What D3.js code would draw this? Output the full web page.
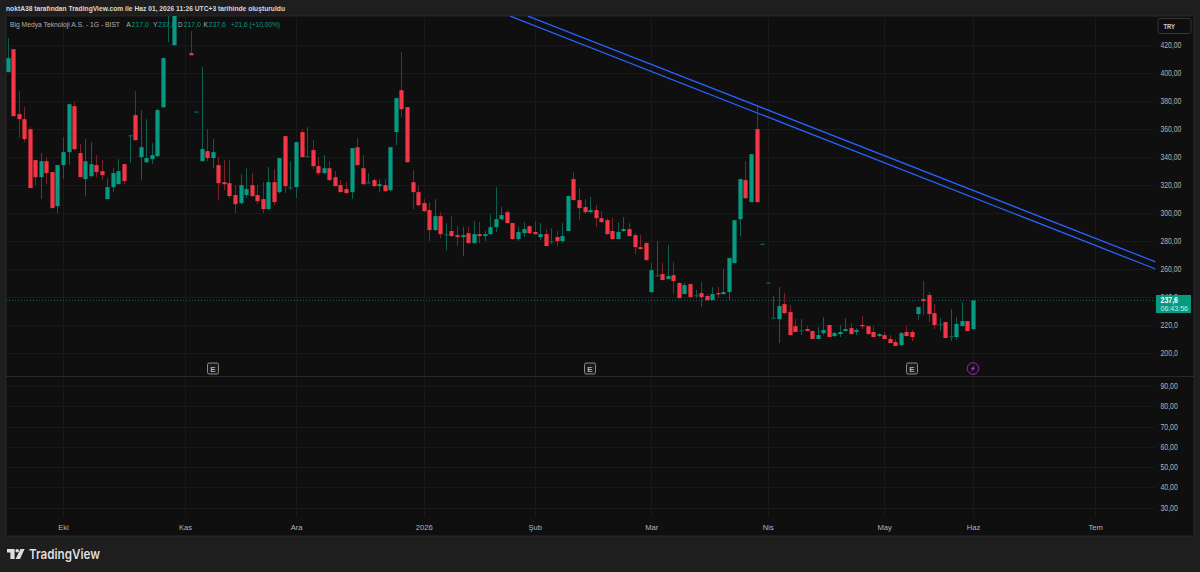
<!DOCTYPE html>
<html><head><meta charset="utf-8">
<script src="https://cdn.jsdelivr.net/npm/d3@7/dist/d3.min.js"></script>
<style>html,body{margin:0;padding:0;background:#1e1e1e;overflow:hidden}svg{display:block}text{font-family:"Liberation Sans",Arial,sans-serif}</style>
</head><body><svg id="c" width="1200" height="572"></svg>
<script>
const opens=[400.6,417.0,370.6,367.0,359.9,337.8,325.6,337.0,329.2,304.9,
334.2,343.5,376.3,342.8,324.2,326.3,334.2,329.9,309.9,318.5,
320.6,334.9,354.9,369.9,339.9,336.3,338.5,340.6,375.6,445,
419.9,455,470,414.2,372,337.0,344.2,339.2,334.2,322.0,
321.3,312.8,307.1,312.8,319.9,312.8,309.9,302.8,322.0,314.9,
354.9,317.8,318.5,357.8,339.9,344.9,333.5,328.5,332.0,325.6,
319.9,317.1,314.9,347.0,332.0,321.3,323.5,319.2,319.9,316.3,
357.8,387.7,375.6,322.0,314.9,307.1,302.1,287.8,297.8,284.2,
287.1,284.2,282.8,285.6,278.5,284.9,283.5,284.9,289.9,295.6,
300.6,292.8,281.4,285.6,290.6,286.4,282.8,284.9,279.6,282.8,
279.9,287.1,324.2,309.2,304.2,300.6,302.1,296.3,294.9,287.1,
281.4,287.1,288.5,284.2,275.6,278.5,243.5,254.9,256.4,252.8,
255.6,250.0,242.1,249.2,240.7,242.8,240.7,237.8,242.8,242.1,
243.5,264.2,295.6,323.5,307.8,359.9,277.6,250.0,224.6,224.2,
234.9,229.2,219.2,215.7,217.1,215.7,210.0,214.2,220.0,212.1,
213.5,215.7,217.8,215.0,220.0,219.2,215.0,212.1,212.8,210.0,
207.8,205.7,215.0,215.0,227.8,238.5,241.4,228.5,220.0,222.1,
211.4,211.4,219.2,222.8,217.0];
const highs=[424.9,417.0,387.0,375.6,361.3,337.8,342.8,339.9,329.2,334.2,
354.2,377.7,379.2,349.2,352.8,350.6,341.3,337.8,324.9,332.0,
338.5,334.9,355.6,387.0,373.5,367.0,349.9,374.9,411.0,465,
455,475,495,429.9,372.7,404.2,359.9,352.8,339.9,337.8,
337.8,319.9,327.8,332.0,328.5,319.9,322.0,332.8,331.3,339.2,
355.0,337.0,350.6,359.9,361.3,352.0,339.9,341.3,337.0,329.9,
323.5,322.0,346.3,353.5,341.3,328.5,324.9,324.2,324.2,347.0,
382.0,414.9,375.6,330.6,319.2,309.9,307.8,309.9,300.6,292.8,
297.8,290.6,289.9,289.9,294.2,293.5,287.1,299.2,318.5,304.2,
302.1,293.0,290.6,293.5,291.3,294.2,292.8,288.5,289.2,287.1,
292.8,312.1,329.2,317.8,309.9,311.3,305.6,301.3,296.3,296.3,
293.5,297.1,292.8,285.6,284.2,279.0,264.2,279.9,264.2,277.1,
264.9,250.5,250.0,249.5,244.9,250.7,242.1,247.1,247.1,259.9,
268.0,295.0,324.5,337.0,342.2,377.0,278.2,250.6,240.7,247.1,
242.8,234.2,224.2,224.2,219.2,216.0,218.5,225.6,220.2,215.0,
220.0,225.0,221.4,217.8,226.4,219.5,219.2,214.2,215.0,212.8,
210.0,215.0,219.2,216.4,233.0,251.4,243.5,235.0,225.0,222.3,
231.4,225.6,236.4,223.0,237.6];
const lows=[400.6,369.0,353.5,350.6,317.8,319.9,309.9,320.6,303.5,299.9,
324.2,334.2,345.0,325.6,312.1,325.6,325.6,323.5,309.9,314.9,
320.6,320.6,335.6,352.0,323.5,335.6,334.9,340.0,375.0,422,
419.9,450,465,412.7,371.8,337.0,337.0,332.0,309.2,316.3,
310.6,299.9,306.0,310.6,311.3,306.3,299.9,302.1,305.6,314.0,
314.2,316.3,310.6,339.9,339.9,331.3,327.0,327.8,323.0,319.0,
314.9,314.0,309.9,334.0,319.9,321.0,318.5,314.9,315.0,315.6,
348.5,368.5,336.0,302.8,304.9,300.6,279.9,287.1,282.1,273.5,
282.8,276.4,269.2,278.0,278.0,278.5,279.9,284.0,286.4,294.9,
292.0,281.0,280.0,282.8,285.0,284.2,280.6,276.0,277.8,276.4,
278.5,287.0,309.0,294.9,299.2,299.9,289.9,293.0,284.5,280.6,
281.0,286.4,283.0,270.6,274.0,265.6,243.0,254.5,252.0,252.5,
242.1,239.0,242.0,239.5,239.2,232.8,237.5,237.5,239.2,241.4,
237.1,264.0,283.5,310.0,307.5,307.5,277.4,249.8,224.6,207.1,
228.0,212.5,214.8,212.8,215.5,209.8,209.8,212.8,211.2,211.4,
211.4,215.5,213.3,212.8,217.1,213.3,211.2,211.4,209.8,207.0,
204.8,204.3,212.0,208.5,223.5,227.1,222.1,217.1,215.7,210.5,
208.5,209.2,219.0,215.5,217.0];
const closes=[410.6,369.2,367.0,352.8,317.8,325.6,337.0,328.5,303.5,334.2,
343.5,377.7,345.6,325.6,337.0,334.9,329.2,327.0,318.5,328.5,
329.9,322.8,355.6,352.0,347.0,339.2,341.3,373.5,410.6,455,
450,470,490,412.7,372.5,345.6,339.2,343.5,321.3,320.6,
312.1,306.3,319.9,317.1,312.1,308.5,302.8,322.0,307.8,339.2,
319.2,318.5,350.6,339.9,340.6,333.5,328.5,332.0,323.5,319.2,
314.9,314.2,346.3,334.2,320.6,322.0,319.2,320.6,315.6,347.0,
382.0,374.2,336.3,314.9,305.6,301.3,287.8,297.8,284.9,284.9,
283.5,282.8,284.2,278.5,284.9,283.5,284.9,289.9,295.6,298.5,
292.8,281.4,286.4,288.5,285.6,284.9,284.9,276.4,280.0,279.9,
283.5,312.1,309.2,303.5,300.6,302.1,296.3,293.5,284.9,281.4,
286.4,288.5,283.5,275.6,274.2,266.4,259.2,255.6,252.1,254.9,
251.4,239.2,248.5,239.9,241.4,239.9,237.8,242.1,242.1,243.5,
267.8,294.9,324.2,310.6,342.0,307.8,278.0,250.4,225.3,233.5,
228.5,212.8,215.0,216.4,215.7,210.0,212.8,216.4,211.4,214.2,
215.0,217.1,213.5,216.4,219.2,213.5,211.4,213.5,210.0,207.1,
205.0,214.2,212.1,211.4,232.8,237.1,227.8,220.0,220.7,210.7,
212.1,220.7,222.8,215.7,237.6];

const priceTicks=[200,220,240,260,280,300,320,340,360,380,400,420];
const priceTickLabels=["200,0","220,0","240,0","260,00","280,00","300,00","320,00","340,00","360,00","380,00","400,00","420,00"];
const lowerTicks=[30,40,50,60,70,80,90];
const monthIdx=[10,32,52,75,95,116,137,158,174,196];
const monthLabels=["Eki","Kas","Ara","2026","Şub","Mar","Nis","May","Haz","Tem"];
const earningsIdx=[37,105,163];
const trendUpperIdx=[93.8,206.9], trendUpperPrice=[440.6,265.1];
const trendLowerIdx=[90.6,206.9], trendLowerPrice=[440.6,260.0];
const lastPrice=237.6;

const svg=d3.select("#c");
const GREEN="#089981",RED="#f23645",GREENW="#0c5e50",REDW="#7a222b",BLUE="#2962ff",GRID="#191919",TXT="#b4b4b4";
const x=d3.scaleLinear().domain([0,174]).range([7.5,973]);
const y=d3.scaleLinear().domain([200,420]).range([353,45]);
const y2=d3.scaleLinear().domain([30,90]).range([507.5,386]);

svg.append("rect").attr("width",1200).attr("height",572).attr("fill","#1e1e1e");
svg.append("rect").attr("x",6).attr("y",16).attr("width",1188).attr("height",520).attr("fill","#0f0f0f").attr("stroke","#292929").attr("stroke-width",1);
svg.append("defs").append("clipPath").attr("id","pane").append("rect").attr("x",6).attr("y",16).attr("width",1149.5).attr("height",360);

// grid
const grid=svg.append("g").attr("stroke",GRID).attr("stroke-width",1);
grid.selectAll("line.h").data(priceTicks).join("line").attr("class","h").attr("x1",6).attr("x2",1155).attr("y1",d=>Math.round(y(d))+.5).attr("y2",d=>Math.round(y(d))+.5);
grid.selectAll("line.l").data(lowerTicks).join("line").attr("class","l").attr("x1",6).attr("x2",1155).attr("y1",d=>Math.round(y2(d))+.5).attr("y2",d=>Math.round(y2(d))+.5);
grid.selectAll("line.v").data(monthIdx).join("line").attr("class","v").attr("x1",d=>Math.round(x(d))+.5).attr("x2",d=>Math.round(x(d))+.5).attr("y1",16).attr("y2",517);
svg.append("line").attr("x1",6).attr("x2",1194).attr("y1",376.5).attr("y2",376.5).attr("stroke","#292929");

// last price line
svg.append("line").attr("x1",6).attr("x2",1155).attr("y1",y(lastPrice)).attr("y2",y(lastPrice)).attr("stroke",GREEN).attr("stroke-opacity",.7).attr("stroke-dasharray","1 2");

// candles
const data=opens.map((o,i)=>({i,o,h:highs[i],l:lows[i],c:closes[i]}));
const cg=svg.append("g").attr("clip-path","url(#pane)");
cg.selectAll("line.w").data(data).join("line").attr("class","w")
 .attr("x1",d=>Math.round(x(d.i))+.5).attr("x2",d=>Math.round(x(d.i))+.5)
 .attr("y1",d=>y(d.h)).attr("y2",d=>y(d.l))
 .attr("stroke",d=>d.c>=d.o?GREENW:REDW).attr("stroke-width",1);
cg.selectAll("rect.b").data(data).join("rect").attr("class","b")
 .attr("x",d=>Math.round(x(d.i))+.5-2.1).attr("width",4.2)
 .attr("y",d=>Math.min(y(d.o),y(d.c)))
 .attr("height",d=>Math.max(1.3,Math.abs(y(d.o)-y(d.c))))
 .attr("fill",d=>d.c>=d.o?(Math.abs(d.c-d.o)<1.2?GREENW:GREEN):RED);

// trend lines
const tl=d3.line().x(d=>x(d[0])).y(d=>y(d[1]));
[[trendUpperIdx,trendUpperPrice],[trendLowerIdx,trendLowerPrice]].forEach(([a,b])=>{
 cg.append("path").attr("d",tl(d3.zip(a,b))).attr("fill","none").attr("stroke",BLUE).attr("stroke-width",1.3);
});

// axes
const axP=svg.append("g").attr("transform","translate(1160.5,0)")
 .call(d3.axisRight(y).tickValues(priceTicks).tickSize(0).tickPadding(0).tickFormat(d=>priceTickLabels[priceTicks.indexOf(d)]));
const axL=svg.append("g").attr("transform","translate(1160.5,0)")
 .call(d3.axisRight(y2).tickValues(lowerTicks).tickSize(0).tickPadding(0).tickFormat(d=>d+",00"));
const axT=svg.append("g").attr("transform","translate(0,527)")
 .call(d3.axisBottom(x).tickValues(monthIdx).tickSize(0).tickPadding(0).tickFormat((d,i)=>monthLabels[i]));
[axP,axL,axT].forEach(a=>{a.select(".domain").remove();a.selectAll("text").attr("fill",TXT).style("font-size","8.2px").style("font-family",'"Liberation Sans",Arial,sans-serif');});
[axP,axL].forEach(a=>a.selectAll("text").attr("lengthAdjust","spacingAndGlyphs").attr("textLength",function(){return this.textContent.length*3.46;}));
axT.selectAll("text").attr("y",3).attr("dy",0).style("font-size","7.6px");

// last price tag
svg.append("rect").attr("x",1156).attr("y",295).attr("width",35).attr("height",18).attr("fill",GREEN);
svg.append("text").attr("x",1160.5).attr("y",302.5).attr("fill","#fff").attr("font-size",8.2).attr("font-weight",700).attr("textLength",17.5).attr("lengthAdjust","spacingAndGlyphs").text("237,6");
svg.append("text").attr("x",1160.5).attr("y",310.5).attr("fill","#cfeae4").attr("font-size",8).attr("textLength",27.5).attr("lengthAdjust","spacingAndGlyphs").text("06:43:56");

// TRY
svg.append("rect").attr("x",1158).attr("y",18.5).attr("width",33).attr("height",15).attr("rx",2).attr("fill","#0f0f0f").attr("stroke","#363636");
svg.append("text").attr("x",1163.5).attr("y",29).attr("fill","#cccccc").attr("font-size",8).attr("font-weight",700).attr("textLength",11.5).attr("lengthAdjust","spacingAndGlyphs").text("TRY");

// header
svg.append("text").attr("x",6).attr("y",11).attr("fill","#d8d8d8").attr("font-size",8).attr("textLength",279).attr("lengthAdjust","spacingAndGlyphs").attr("font-weight",700).text("noktA38 tarafından TradingView.com ile Haz 01, 2026 11:26 UTC+3 tarihinde oluşturuldu");

// legend
const leg=[["Big Medya Teknoloji A.S. - 1G - BIST",10,"#b0b0b0",110,7],["A",126.3,"#b0b0b0",4.5,7.4],["217,0",131.5,GREEN,17.5,7.4],["Y",153,"#b0b0b0",4.5,7.4],["237,6",158,GREEN,17.5,7.4],["D",178,"#b0b0b0",4.5,7.4],["217,0",183.5,GREEN,17.5,7.4],["K",203.5,"#b0b0b0",4.5,7.4],["237,6",208.5,GREEN,17.5,7.4],["+21,6 (+10,00%)",231,GREEN,49,7.4]];
svg.append("g").selectAll("text").data(leg).join("text").attr("x",d=>d[1]).attr("y",27).attr("fill",d=>d[2]).attr("font-size",d=>d[4]).attr("textLength",d=>d[3]).attr("lengthAdjust","spacingAndGlyphs").text(d=>d[0]);

// earnings markers
const em=svg.append("g").selectAll("g").data(earningsIdx).join("g").attr("transform",d=>`translate(${Math.round(x(d))},368.5)`);
em.append("rect").attr("x",-5.5).attr("y",-5.5).attr("width",11).attr("height",11).attr("rx",1.5).attr("fill","#1a1a1a").attr("stroke","#8a8a8a");
em.append("text").attr("text-anchor","middle").attr("y",3).attr("font-size",8).attr("font-weight",700).attr("fill","#b0b0b0").text("E");

// zap marker
const zap=svg.append("g").attr("transform",`translate(${x(174)},368.5)`);
zap.append("circle").attr("r",5.8).attr("fill","#14101a").attr("stroke","#9c27b0").attr("stroke-width",1);
zap.append("path").attr("d","M1.6,-3.8 L-2.2,0.8 L-0.2,0.8 L-1.6,3.8 L2.2,-0.8 L0.2,-0.8 Z").attr("fill","#a838c0");

// logo
const logo=svg.append("g").attr("transform","translate(7,549)").attr("fill","#dedede");
logo.append("path").attr("d","M0,0 H7.6 V10 H3.4 V3.6 H0 Z");
logo.append("circle").attr("cx",10.2).attr("cy",1.8).attr("r",1.8);
logo.append("path").attr("d","M13.4,0 H17.6 L13,10 H8.6 Z");
svg.append("text").attr("x",29).attr("y",559).attr("fill","#dedede").attr("font-size",13.5).attr("font-weight",600).style("font-family","Inter,'Liberation Sans',sans-serif").attr("textLength",71).attr("lengthAdjust","spacingAndGlyphs").text("TradingView");
</script></body></html>
